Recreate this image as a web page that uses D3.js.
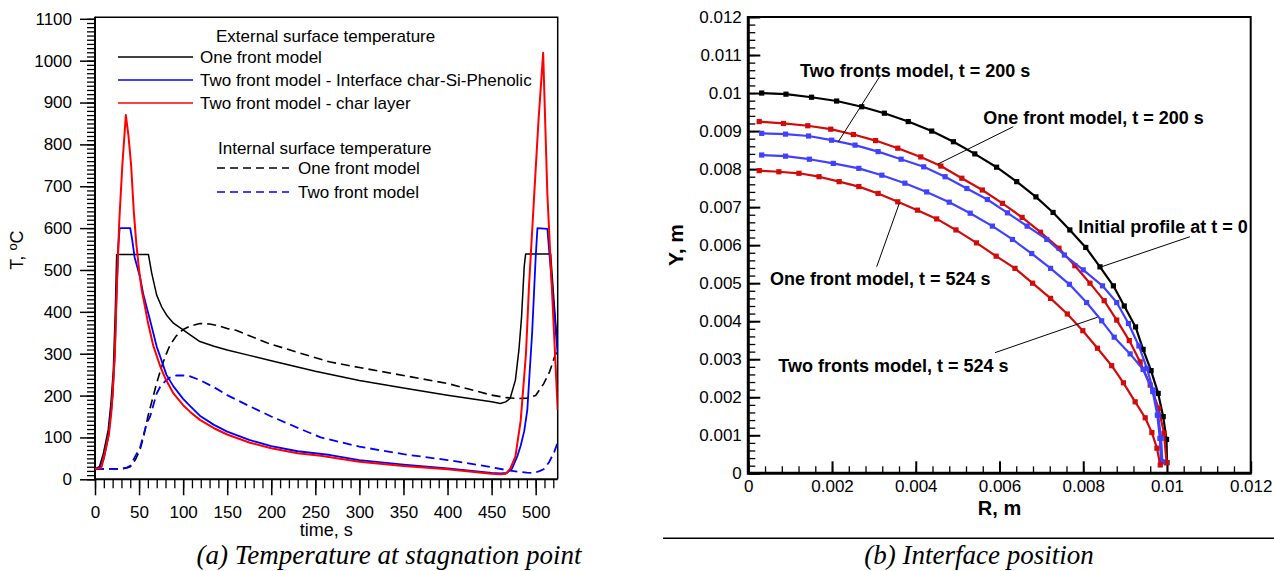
<!DOCTYPE html>
<html>
<head>
<meta charset="utf-8">
<script src="https://cdn.jsdelivr.net/npm/d3@7/dist/d3.min.js"></script>
<style>
  html, body { margin: 0; padding: 0; background: #fff; }
  svg { display: block; }
  text { font-family: "Liberation Sans", Arial, sans-serif; fill: #000; }
</style>
</head>
<body>
<svg id="chart" width="1274" height="571"></svg>
<script>
// ---------------- DATA : (a) Temperature at stagnation point ----------------
const tempTicks = [0,100,200,300,400,500,600,700,800,900,1000,1100];
const tempTickLabels = ["0","100","200","300","400","500","600","700","800","900","1000","1100"];
const timeTicks = [0,50,100,150,200,250,300,350,400,450,500];
const timeTickLabels = ["0","50","100","150","200","250","300","350","400","450","500"];

// External surface temperature, one front model
const oneExtTime = [0,5,9.5,15,18,20.8,23,24.6,60.6,64.4,70,75.6,82,89,100,108,119,135,150,175,200,250,300,350,400,450,460,466,471,477,481,484,487,488.6,517,521,525];
const oneExtTemp = [25,30,62,118,180,261,400,537,537,492,440,412,390,373,357,345,329,318,309,296,283,258,236,218,201,185,181,185,193,237,309,388,508,538,538,420,310];
// External, two front model - interface char-Si-Phenolic
const twoIntfTime = [0,5,10,15,20,22.5,24.6,26.5,28,40,42,45,51,55,62.5,70,74,81,89,100,108,119,135,150,175,200,230,267,300,350,400,450,460,467,473,479,483,487,490.5,493,496,498,500,502,513.3,525];
const twoIntfTemp = [25,25,50,100,200,300,450,560,600,600,575,530,484,440,380,317,293,250,222,192,175,152,130,114,94,79,67,58,46,35,26,15,14,15,25,54,80,115,165,250,350,440,530,600,598,297];
// External, two front model - char layer
const twoCharTime = [0,7,10,13,16,19,22.5,24.6,27.6,31,35,38,41,44,47,50,53,56,60,66,74,80,89,100,108,119,135,150,175,200,230,256,300,350,400,450,460,466,471,477,483,489,492.4,498,503,508.5,511,513.3,525];
const twoCharTemp = [25,27,50,80,110,170,300,450,619,750,870,820,750,640,560,500,452,420,375,320,270,240,205,177,161,142,122,107,88,74,62,56,42,32,24,13,12,13,25,54,140,300,460,667,850,1019,840,680,166];
// Internal surface temperature, one front model
const oneInTime = [0,30,36,40,44,47,51,55,60,65,70,75,80,85,92,100,108,119,130,140,150,160,195,230,267,300,350,400,450,467,480,490,500,509,516,521,525];
const oneInTemp = [25,25,27,30,40,52,70,100,150,190,230,265,295,320,342,358,366,372,371,367,360,356,326,303,280,267,248,229,201,195,193,194,200,228,258,290,310];
// Internal surface temperature, two front model
const twoInTime = [0,30,36,40,47,51,58.7,62.5,70,74,80,85,92,100,108,119,135,150,175,200,230,256,300,350,400,450,467,480,490,498,505,509,515,521,525];
const twoInTemp = [25,25,28,32,60,75,134,150,205,221,235,243,248,248,246,237,220,201,175,150,123,100,78,60,46,29,22,18,16,15,20,24,40,65,88];

// ---------------- DATA : (b) Interface position ----------------
const posTicks = [0,0.001,0.002,0.003,0.004,0.005,0.006,0.007,0.008,0.009,0.01,0.011,0.012];
const posTickLabels = ["0","0.001","0.002","0.003","0.004","0.005","0.006","0.007","0.008","0.009","0.01","0.011","0.012"];
const rTicks = [0,0.002,0.004,0.006,0.008,0.01,0.012];
const rTickLabels = ["0","0.002","0.004","0.006","0.008","0.01","0.012"];

const initR = [0.00032,0.0009,0.00151,0.00211,0.00271,0.00325,0.00382,0.00438,0.0049,0.00541,0.00593,0.00641,0.00687,0.00728,0.00768,0.00806,0.0084,0.00872,0.00898,0.00925,0.00943,0.00962,0.00979,0.00991,0.00999,0.01];
const initY = [0.01,0.00997,0.00989,0.00979,0.00964,0.00947,0.00925,0.009,0.00872,0.0084,0.00805,0.00767,0.00727,0.00686,0.0064,0.00594,0.00543,0.00493,0.0044,0.00385,0.00326,0.0027,0.0021,0.00149,0.00089,0.00028];
const one200R = [0.00026,0.00084,0.00142,0.00197,0.00251,0.00304,0.00357,0.00412,0.0046,0.0051,0.00559,0.00607,0.00654,0.00698,0.00742,0.0078,0.00816,0.0085,0.0088,0.0091,0.00936,0.0096,0.0098,0.00993,0.00999];
const one200Y = [0.00925,0.0092,0.00914,0.00905,0.00891,0.00875,0.00855,0.00832,0.00808,0.00776,0.00745,0.0071,0.00673,0.00634,0.00592,0.00546,0.005,0.00454,0.00403,0.00349,0.00293,0.00232,0.00171,0.00105,0.00028];
const two200R = [0.00032,0.00089,0.00144,0.00199,0.00255,0.0031,0.00365,0.00419,0.0047,0.00522,0.00571,0.00619,0.00666,0.00713,0.00755,0.008,0.00846,0.0088,0.00908,0.00933,0.00952,0.00967,0.00979,0.00986,0.00989];
const two200Y = [0.00894,0.00892,0.00887,0.00876,0.00863,0.00846,0.00826,0.00806,0.0078,0.00749,0.0072,0.00685,0.0065,0.00615,0.00574,0.00535,0.00493,0.00449,0.00394,0.00335,0.00276,0.00219,0.00153,0.00092,0.0003];
const two524R = [0.00032,0.00089,0.00146,0.00203,0.00264,0.00319,0.00374,0.00426,0.0048,0.0053,0.00583,0.00631,0.00677,0.00722,0.00767,0.00808,0.00844,0.00874,0.00912,0.00943,0.00966,0.00977,0.00983,0.00986];
const two524Y = [0.00837,0.00834,0.00826,0.00815,0.00802,0.00784,0.00763,0.0074,0.00713,0.00684,0.0065,0.00615,0.00578,0.00539,0.00497,0.00449,0.00401,0.00358,0.00314,0.00273,0.00215,0.00153,0.00092,0.0003];
const one524R = [0.00026,0.00073,0.00121,0.00169,0.00217,0.00264,0.0031,0.00357,0.00404,0.0045,0.00496,0.00545,0.00592,0.00637,0.00679,0.00722,0.00762,0.00799,0.00834,0.00868,0.00896,0.00924,0.00948,0.00964,0.00976,0.00984];
const one524Y = [0.00796,0.00793,0.00789,0.0078,0.00767,0.00754,0.00736,0.00714,0.00692,0.00669,0.0064,0.00606,0.00571,0.00539,0.005,0.0046,0.00419,0.00375,0.00329,0.00283,0.00238,0.00188,0.00146,0.00107,0.00066,0.00022];

// ---------------- LAYOUT / STYLE ----------------
const svg = d3.select("#chart");
svg.append("rect").attr("width",1274).attr("height",571).attr("fill","#fff");

const RED = "#ff0000", BLUE = "#0000ff";
const RED2 = "#d20a0a", BLUE2 = "#4040ff";

// ===== Left chart =====
const xL = d3.scaleLinear().domain([0,525]).range([95,557.7]);
const yL = d3.scaleLinear().domain([0,1100]).range([479.3,18.8]);
const gL = svg.append("g");

function styleAxis(g, fs, sw){
  g.select(".domain").remove();
  g.selectAll("line").attr("stroke","#000").attr("stroke-width",sw);
  g.selectAll("text").attr("font-size",fs).attr("font-family","'Liberation Sans', Arial, sans-serif").attr("fill","#000");
}
// minor ticks
gL.append("g").attr("transform",`translate(${xL(0)},0)`)
  .call(d3.axisLeft(yL).tickValues(d3.range(0,1101,10)).tickSize(8).tickFormat(""))
  .call(g=>styleAxis(g,0,1.3));
gL.append("g").attr("transform",`translate(${xL(0)},0)`)
  .call(d3.axisLeft(yL).tickValues(tempTicks).tickSize(15).tickPadding(8).tickFormat((d,i)=>tempTickLabels[i]))
  .call(g=>styleAxis(g,17,1.5));
gL.append("g").attr("transform",`translate(0,${yL(0)})`)
  .call(d3.axisBottom(xL).tickValues(d3.range(0,521,10)).tickSize(9).tickFormat(""))
  .call(g=>styleAxis(g,0,1.3));
gL.append("g").attr("transform",`translate(0,${yL(0)})`)
  .call(d3.axisBottom(xL).tickValues(timeTicks).tickSize(16).tickPadding(11).tickFormat((d,i)=>timeTickLabels[i]))
  .call(g=>styleAxis(g,17,1.5));
// frame
gL.append("path").attr("fill","none").attr("stroke","#000").attr("stroke-width",1.5)
  .attr("d",`M${xL(0)},${yL(1100)-1.5}H${xL(525)}V${yL(0)}`);
gL.append("path").attr("fill","none").attr("stroke","#000").attr("stroke-width",2)
  .attr("d",`M${xL(0)},${yL(1100)-2}V${yL(0)}H${xL(525)}`);

const lineL = d3.line().x(d=>xL(d[0])).y(d=>yL(d[1]));
const zip = (a,b)=>a.map((v,i)=>[v,b[i]]);
const seriesL = [
  {t:oneInTime, v:oneInTemp, color:"#000", dash:"9,5", w:1.6},
  {t:twoInTime, v:twoInTemp, color:BLUE, dash:"9,5", w:1.8},
  {t:oneExtTime, v:oneExtTemp, color:"#000", dash:null, w:1.5},
  {t:twoIntfTime, v:twoIntfTemp, color:BLUE, dash:null, w:1.8},
  {t:twoCharTime, v:twoCharTemp, color:RED, dash:null, w:2}
];
svg.append("clipPath").attr("id","clipL").append("rect")
  .attr("x",xL(0)).attr("y",yL(1100)).attr("width",xL(525)-xL(0)).attr("height",yL(0)-yL(1100));
gL.append("g").attr("clip-path","url(#clipL)").selectAll("path").data(seriesL).join("path")
  .attr("fill","none").attr("stroke",d=>d.color).attr("stroke-width",d=>d.w)
  .attr("stroke-dasharray",d=>d.dash).attr("stroke-linejoin","round")
  .attr("d",d=>lineL(zip(d.t,d.v)));

// legend
const legendHeaders = ["External surface temperature","Internal surface temperature"];
const legendLabels = ["One front model","Two front model - Interface char-Si-Phenolic","Two front model - char layer","One front model","Two front model"];
const legendStyle = [
  {color:"#000",dash:null,x1:118,x2:193,tx:200,y:57},
  {color:BLUE,dash:null,x1:118,x2:193,tx:200,y:80},
  {color:RED,dash:null,x1:118,x2:193,tx:200,y:103},
  {color:"#000",dash:"8,5",x1:217,x2:289,tx:298,y:168},
  {color:BLUE,dash:"8,5",x1:217,x2:289,tx:298,y:192}
];
gL.append("text").attr("x",216).attr("y",42).attr("font-size",17).text(legendHeaders[0]);
gL.append("text").attr("x",218).attr("y",154).attr("font-size",17).text(legendHeaders[1]);
legendStyle.forEach((s,i)=>{
  gL.append("line").attr("x1",s.x1).attr("x2",s.x2).attr("y1",s.y).attr("y2",s.y)
    .attr("stroke",s.color).attr("stroke-width",1.6).attr("stroke-dasharray",s.dash);
  gL.append("text").attr("x",s.tx).attr("y",s.y+6).attr("font-size",17).text(legendLabels[i]);
});
// axis titles
gL.append("text").attr("x",(xL(0)+xL(525))/2).attr("y",536).attr("text-anchor","middle").attr("font-size",18).text("time, s");
const yt = gL.append("text").attr("transform","translate(22.5,250) rotate(-90)").attr("text-anchor","middle").attr("font-size",18);
yt.append("tspan").text("T, ");
yt.append("tspan").attr("font-size",13).attr("dy",-6).text("o");
yt.append("tspan").attr("dy",6).text("C");
// caption
svg.append("text").attr("x",389).attr("y",564).attr("text-anchor","middle")
  .attr("font-style","italic").attr("font-size",27)
  .style("font-family","'Liberation Serif','Times New Roman',serif")
  .text("(a) Temperature at stagnation point");

// ===== Right chart =====
const xR = d3.scaleLinear().domain([0,0.012]).range([748.3,1250.7]);
const yR = d3.scaleLinear().domain([0,0.012]).range([473.3,17]);
const gR = svg.append("g");
gR.append("g").attr("transform",`translate(${xR(0)},0)`)
  .call(d3.axisLeft(yR).tickValues(d3.range(0,0.01201,0.0002)).tickSizeInner(-7).tickSizeOuter(0).tickFormat(""))
  .call(g=>styleAxis(g,0,1.3));
gR.append("g").attr("transform",`translate(${xR(0)},0)`)
  .call(d3.axisLeft(yR).tickValues(posTicks).tickSizeInner(-12).tickSizeOuter(0).tickPadding(6.5).tickFormat((d,i)=>posTickLabels[i]))
  .call(g=>styleAxis(g,17,2));
gR.append("g").attr("transform",`translate(0,${yR(0)})`)
  .call(d3.axisBottom(xR).tickValues(d3.range(0,0.01201,0.0004)).tickSizeInner(-7).tickSizeOuter(0).tickFormat(""))
  .call(g=>styleAxis(g,0,1.3));
gR.append("g").attr("transform",`translate(0,${yR(0)})`)
  .call(d3.axisBottom(xR).tickValues(rTicks).tickSizeInner(-12).tickSizeOuter(0).tickPadding(7).tickFormat((d,i)=>rTickLabels[i]))
  .call(g=>styleAxis(g,17,2));
gR.append("path").attr("fill","none").attr("stroke","#000").attr("stroke-width",2)
  .attr("d",`M${xR(0)},${yR(0.012)}H${xR(0.012)}V${yR(0)}`);
gR.append("path").attr("fill","none").attr("stroke","#000").attr("stroke-width",3)
  .attr("d",`M${xR(0)},${yR(0.012)-1}V${yR(0)}H${xR(0.012)+1}`);

const lineR = d3.line().x(d=>xR(d[0])).y(d=>yR(d[1]));
const seriesR = [
  {r:initR, y:initY, color:"#000"},
  {r:one200R, y:one200Y, color:RED2},
  {r:two200R, y:two200Y, color:BLUE2},
  {r:two524R, y:two524Y, color:BLUE2},
  {r:one524R, y:one524Y, color:RED2}
];
seriesR.forEach(s=>{
  const pts = zip(s.r,s.y);
  gR.append("path").attr("fill","none").attr("stroke",s.color).attr("stroke-width",2.2)
    .attr("stroke-linejoin","round").attr("d",lineR(pts));
  gR.append("g").selectAll("rect").data(pts).join("rect")
    .attr("x",d=>xR(d[0])-2.6).attr("y",d=>yR(d[1])-2.6).attr("width",5.2).attr("height",5.2)
    .attr("fill",s.color);
});

// annotations (data coordinates)
const annLabels = ["Two fronts model, t = 200 s","One front model, t = 200 s","Initial profile at t = 0","One front model, t = 524 s","Two fronts model, t = 524 s"];
const annPos = [
  {tx:0.001235,ty:0.010435,x1:0.003145,y1:0.010447,x2:0.00215,y2:0.00872},
  {tx:0.005613,ty:0.009173,x1:0.00633,y1:0.009115,x2:0.004531,y2:0.008134},
  {tx:0.007882,ty:0.006314,x1:0.01055,y1:0.006222,x2:0.008441,y2:0.005433},
  {tx:0.000518,ty:0.004957,x1:0.003067,y1:0.005433,x2:0.003607,y2:0.0071},
  {tx:0.000717,ty:0.002651,x1:0.005893,y1:0.003172,x2:0.008336,y2:0.004103}
];
annPos.forEach((a,i)=>{
  gR.append("line").attr("x1",xR(a.x1)).attr("y1",yR(a.y1)).attr("x2",xR(a.x2)).attr("y2",yR(a.y2))
    .attr("stroke","#000").attr("stroke-width",1);
  gR.append("text").attr("x",xR(a.tx)).attr("y",yR(a.ty)).attr("font-size",18).attr("font-weight","bold").text(annLabels[i]);
});
gR.append("text").attr("x",(xR(0)+xR(0.012))/2).attr("y",515).attr("text-anchor","middle")
  .attr("font-size",20).attr("font-weight","bold").text("R, m");
gR.append("text").attr("transform","translate(683,245) rotate(-90)").attr("text-anchor","middle")
  .attr("font-size",21).attr("font-weight","bold").text("Y, m");
svg.append("line").attr("x1",663).attr("x2",1274).attr("y1",538.3).attr("y2",538.3).attr("stroke","#000").attr("stroke-width",1.5);
svg.append("text").attr("x",979).attr("y",564).attr("text-anchor","middle")
  .attr("font-style","italic").attr("font-size",27)
  .style("font-family","'Liberation Serif','Times New Roman',serif")
  .text("(b) Interface position");
</script>
</body>
</html>
